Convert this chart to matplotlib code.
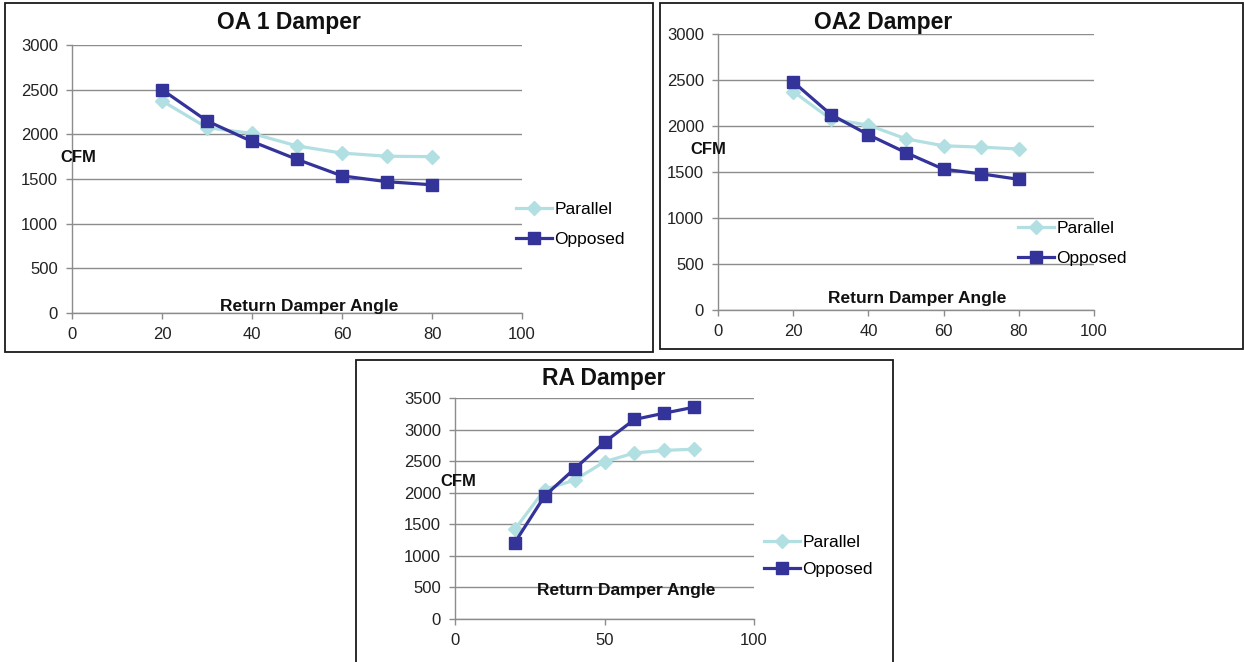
import matplotlib
matplotlib.use("Agg")
import matplotlib.pyplot as plt
from matplotlib.patches import Rectangle
from matplotlib.lines import Line2D

plt.rcParams["font.family"] = ["Liberation Sans", "DejaVu Sans"]

# ---------------------------------------------------------------------------
# Data (CFM vs return damper angle)
# ---------------------------------------------------------------------------
angles = [20, 30, 40, 50, 60, 70, 80]

oa1_parallel = [2375, 2075, 2010, 1870, 1790, 1755, 1750]
oa1_opposed = [2500, 2150, 1920, 1720, 1535, 1470, 1435]

oa2_parallel = [2375, 2075, 2010, 1860, 1785, 1770, 1750]
oa2_opposed = [2480, 2125, 1905, 1710, 1530, 1480, 1420]

ra_parallel = [1420, 2050, 2200, 2490, 2630, 2670, 2690]
ra_opposed = [1210, 1950, 2380, 2800, 3160, 3260, 3355]

titles = ["OA 1 Damper", "OA2 Damper", "RA Damper"]
series_names = ["Parallel", "Opposed"]

# ---------------------------------------------------------------------------
# Styling
# ---------------------------------------------------------------------------
W, H = 1244, 662
PAR_COLOR = "#B2DFE2"
OPP_COLOR = "#333399"
GRID_COLOR = "#8C8C8C"

fig = plt.figure(figsize=(W / 100, H / 100), dpi=100)


def fx(x):
    return x / W


def fy(y):
    return 1 - y / H


def add_box(x0, y0, x1, y1):
    fig.patches.append(Rectangle((fx(x0), fy(y1)), fx(x1) - fx(x0), fy(y0) - fy(y1),
                                 transform=fig.transFigure, fill=False,
                                 edgecolor="#1a1a1a", linewidth=1.3))


def make_chart(rect, box, par, opp, ymax, ystep, xticks, title, title_xy,
               cfm_xy, xlabel_xy, legend_xy, spacing):
    left, top, right, bottom = rect
    add_box(*box)
    ax = fig.add_axes([fx(left), fy(bottom), fx(right) - fx(left), fy(top) - fy(bottom)])
    ax.set_xlim(0, 100)
    ax.set_ylim(0, ymax)
    ax.set_xticks(xticks)
    ax.set_yticks(range(0, ymax + 1, ystep))
    ax.grid(axis="y", color=GRID_COLOR, linewidth=1.0)
    ax.set_axisbelow(True)
    for s in ["top", "right"]:
        ax.spines[s].set_visible(False)
    for s in ["left", "bottom"]:
        ax.spines[s].set_color(GRID_COLOR)
        ax.spines[s].set_linewidth(1.0)
    ax.tick_params(direction="out", length=4, width=1.0, color=GRID_COLOR,
                   labelsize=12, labelcolor="#222222")
    ax.tick_params(axis="y", pad=6)
    ax.tick_params(axis="x", pad=6)

    ax.plot(angles, par, color=PAR_COLOR, linewidth=2.3, marker="D",
            markersize=7, markeredgecolor=PAR_COLOR, clip_on=False)
    ax.plot(angles, opp, color=OPP_COLOR, linewidth=2.3, marker="s",
            markersize=8.5, markeredgecolor=OPP_COLOR, clip_on=False)

    fig.text(fx(title_xy[0]), fy(title_xy[1]), title, ha="center", va="center",
             fontsize=16.5, fontweight="bold", color="#111111")
    fig.text(fx(cfm_xy[0]), fy(cfm_xy[1]), "CFM", ha="center", va="center",
             fontsize=12, fontweight="bold", color="#111111")
    fig.text(fx(xlabel_xy[0]), fy(xlabel_xy[1]), "Return Damper Angle", ha="center",
             va="center", fontsize=12.5, fontweight="bold", color="#111111")

    handles = [
        Line2D([], [], color=PAR_COLOR, linewidth=2.3, marker="D", markersize=7),
        Line2D([], [], color=OPP_COLOR, linewidth=2.3, marker="s", markersize=8.5),
    ]
    fig.legend(handles, series_names, loc="upper left",
               bbox_to_anchor=(fx(legend_xy[0]), fy(legend_xy[1])),
               bbox_transform=fig.transFigure, frameon=False, fontsize=12.5,
               handlelength=2.1, handletextpad=0.1, labelspacing=spacing,
               borderaxespad=0, borderpad=0)
    return ax


make_chart((72, 45, 522, 313), (5, 3, 653, 352), oa1_parallel, oa1_opposed,
           3000, 500, [0, 20, 40, 60, 80, 100], titles[0], (289, 22),
           (78, 158), (309, 306), (516, 202), 0.85)

make_chart((718, 34, 1094, 310), (660, 3, 1243, 349), oa2_parallel, oa2_opposed,
           3000, 500, [0, 20, 40, 60, 80, 100], titles[1], (883, 22),
           (708, 150), (917, 299), (1018, 221), 0.85)

make_chart((455, 398, 754, 619), (356, 360, 893, 700), ra_parallel, ra_opposed,
           3500, 500, [0, 50, 100], titles[2], (604, 379),
           (458, 482), (626, 591), (764, 535), 0.65)

fig.savefig("out.png", dpi=100)
